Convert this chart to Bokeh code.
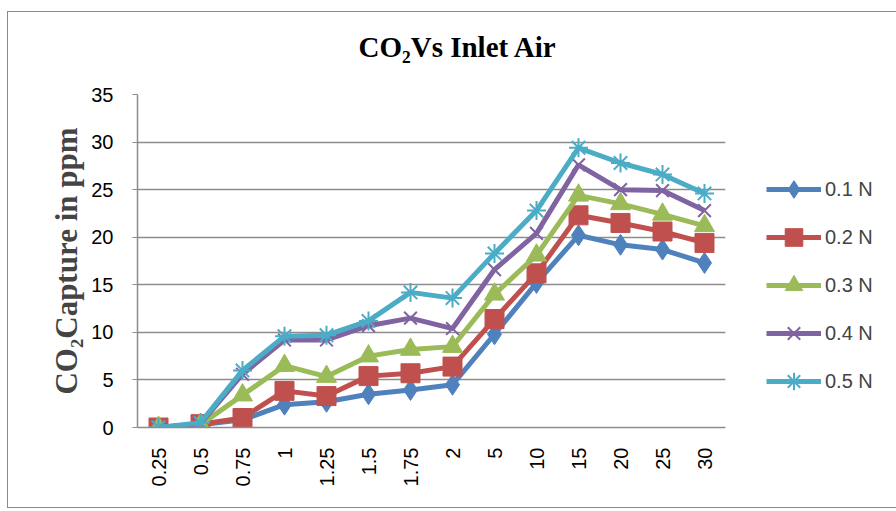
from bokeh.plotting import figure
from bokeh.models import FactorRange, Range1d, Legend, LegendItem, FixedTicker, ColumnDataSource, Title
from bokeh.layouts import row
from bokeh.embed import file_html
from bokeh.resources import INLINE
import math

categories = ["0.25", "0.5", "0.75", "1", "1.25", "1.5", "1.75", "2", "5", "10", "15", "20", "25", "30"]
s01 = [0.0, 0.3, 0.8, 2.4, 2.7, 3.5, 3.95, 4.5, 9.8, 15.2, 20.2, 19.2, 18.7, 17.3]
s02 = [0.0, 0.35, 1.0, 3.85, 3.3, 5.4, 5.7, 6.4, 11.4, 16.2, 22.3, 21.5, 20.6, 19.4]
s03 = [0.0, 0.3, 3.4, 6.5, 5.35, 7.5, 8.2, 8.5, 14.0, 18.1, 24.4, 23.5, 22.4, 21.2]
s04 = [0.0, 0.4, 5.6, 9.2, 9.2, 10.7, 11.5, 10.4, 16.6, 20.4, 27.6, 25.0, 24.9, 22.8]
s05 = [0.0, 0.5, 6.0, 9.6, 9.7, 11.2, 14.2, 13.6, 18.3, 22.8, 29.4, 27.8, 26.6, 24.6]
series_names = ["0.1 N", "0.2 N", "0.3 N", "0.4 N", "0.5 N"]
y_ticks = [0, 5, 10, 15, 20, 25, 30, 35]

colors = ["#4F81BD", "#C0504D", "#9BBB59", "#8064A2", "#4BACC6"]
markers = ["diamond", "square", "triangle", "x", "asterisk"]
msizes = [21, 19, 20, 18, 19]
BORDER = "1px solid #8a8a8a"

p = figure(width=720, height=497, output_backend="svg", toolbar_location=None,
           x_range=FactorRange(factors=categories, range_padding=0),
           y_range=Range1d(0, 35),
           title="CO\u2082Vs Inlet Air",
           min_border_left=129, min_border_right=3, min_border_top=82, min_border_bottom=82)
p.styles = {"border-left": BORDER, "border-top": BORDER, "border-bottom": BORDER}
p.outline_line_color = None
p.background_fill_color = "white"
p.border_fill_color = None

p.title.align = "left"
p.title.offset = 221
p.title.vertical_align = "top"
p.title.text_font = "Liberation Serif"
p.title.text_font_style = "bold"
p.title.text_font_size = "29px"
p.title.text_color = "black"
p.title.standoff = 0

# blank spacer between the title and the plot area
spacer = Title(text=" ", text_font_size="20px", standoff=6, text_color="white")
p.add_layout(spacer, "above")

p.xgrid.grid_line_color = None
p.ygrid.grid_line_color = "#8c8c8c"
p.ygrid.grid_line_width = 1.5
p.yaxis.ticker = FixedTicker(ticks=y_ticks)

for ax in (p.xaxis[0], p.yaxis[0]):
    ax.axis_line_color = "#8c8c8c"
    ax.axis_line_width = 1.5
    ax.major_label_text_font = "Liberation Sans"
    ax.major_label_text_font_size = "20px"
    ax.major_label_text_color = "black"
    ax.minor_tick_line_color = None

p.yaxis.major_tick_line_color = "#8c8c8c"
p.yaxis.major_tick_out = 5
p.yaxis.major_tick_in = 0
p.yaxis.major_label_standoff = 19
p.yaxis.axis_label = "CO\u2082Capture in ppm"
p.yaxis.axis_label_text_font = "Liberation Serif"
p.yaxis.axis_label_text_font_style = "bold"
p.yaxis.axis_label_text_font_size = "31px"
p.yaxis.axis_label_standoff = 4

p.xaxis.major_tick_line_color = None
p.xaxis.major_label_orientation = math.pi / 2
p.xaxis.major_label_standoff = 14

# side figure holding the legend
q = figure(width=169, height=497, output_backend="svg", toolbar_location=None,
           x_range=Range1d(0, 1), y_range=Range1d(0, 1),
           min_border_left=0, min_border_right=0, min_border_top=0, min_border_bottom=0)
q.styles = {"border-top": BORDER, "border-bottom": BORDER}
q.axis.visible = False
q.grid.grid_line_color = None
q.outline_line_color = None
q.border_fill_color = None
q.background_fill_color = None

data = [s01, s02, s03, s04, s05]
items = []
for name, vals, c, m, ms in zip(series_names, data, colors, markers, msizes):
    src = ColumnDataSource(dict(x=categories, y=vals))
    lw = 2 if m in ("x", "asterisk") else 1
    p.line("x", "y", source=src, line_color=c, line_width=5)
    p.scatter("x", "y", source=src, marker=m, size=ms, fill_color=c, line_color=c, line_width=lw)
    offscreen = ColumnDataSource(dict(x=[-10.0], y=[-10.0]))
    ln = q.line("x", "y", source=offscreen, line_color=c, line_width=5)
    sc = q.scatter("x", "y", source=offscreen, marker=m, size=ms, fill_color=c, line_color=c, line_width=lw)
    items.append(LegendItem(label=name, renderers=[ln, sc]))

legend = Legend(items=items, location=(39, 24), glyph_width=55, glyph_height=44,
                label_height=44, spacing=4, label_text_font="Liberation Sans",
                label_text_font_size="20px", label_standoff=4, border_line_color=None,
                background_fill_alpha=0, padding=0, margin=0)
q.add_layout(legend, "center")

layout = row(p, q, margin=(11, 0, 0, 7))
open("out.html", "w").write(file_html(layout, INLINE))
